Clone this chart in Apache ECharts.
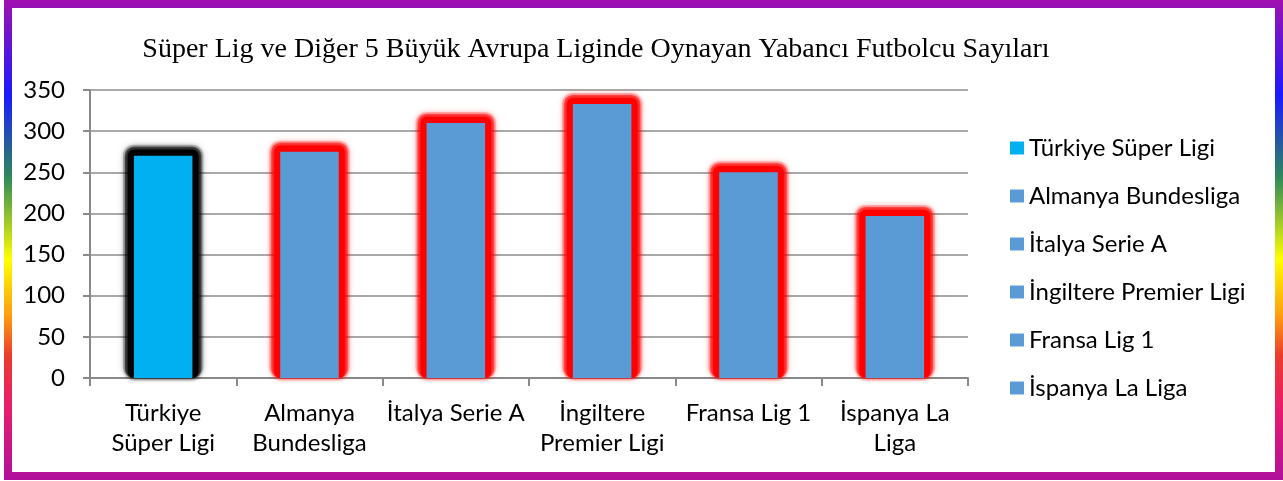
<!DOCTYPE html>
<html>
<head>
<meta charset="utf-8">
<script src="https://cdn.jsdelivr.net/npm/echarts@6/dist/echarts.min.js"></script>
<style>
  html, body { margin: 0; padding: 0; background: #fff; }
  #chart { width: 1283px; height: 481px; }
</style>
</head>
<body>
<div id="chart"></div>
<script>
  // kategoriler (eksen etiketleri) ve lejant isimleri
  const categories = ['Türkiye\nSüper Ligi', 'Almanya\nBundesliga', 'İtalya Serie A', 'İngiltere\nPremier Ligi', 'Fransa Lig 1', 'İspanya La\nLiga']
  const leagueNames = ['Türkiye Süper Ligi', 'Almanya Bundesliga', 'İtalya Serie A', 'İngiltere Premier Ligi', 'Fransa Lig 1', 'İspanya La Liga']
  // yabancı oyuncu sayıları
  const playerCounts = [270, 275, 310, 333, 250, 197]
  const yTicks = [0, 50, 100, 150, 200, 250, 300, 350]

  const barColors = ['#00b0f0', '#5b9bd5', '#5b9bd5', '#5b9bd5', '#5b9bd5', '#5b9bd5']
  const glowColors = ['#000000', '#ff0000', '#ff0000', '#ff0000', '#ff0000', '#ff0000']

  const chart = echarts.init(document.getElementById('chart'))
  const labelFont = 'Lato, "Open Sans", sans-serif'

  // çubukların arkasındaki parlama (glow) - custom seri, katmanlı yumuşak kenar
  const glowSeries = {
    name: 'glow',
    type: 'custom',
    silent: true,
    z: 1,
    data: playerCounts.map((v, i) => [i, v]),
    encode: { x: 0, y: 1 },
    renderItem: function (params, api) {
      const top = api.coord([api.value(0), api.value(1)])
      const base = api.coord([api.value(0), 0])
      const w = api.size([1, 0])[0] * 0.4
      const c = glowColors[params.dataIndex]
      const layer = (pad, opacity, blur) => ({
        type: 'rect',
        shape: { x: top[0] - w / 2 - pad, y: top[1] - pad, width: w + pad * 2, height: base[1] - top[1] + pad, r: pad },
        style: { fill: c, opacity: opacity, shadowBlur: blur, shadowColor: c }
      })
      return {
        type: 'group',
        children: [layer(11, 0.18, 6), layer(9, 0.45, 4), layer(6, 1, 4)]
      }
    }
  }

  // her lig için ayrı seri, lejantta görünsün diye
  const leagueSeries = leagueNames.map((name, i) => ({
    name: name,
    type: 'bar',
    stack: 'lig',
    barWidth: '40%',
    z: 3,
    itemStyle: { color: barColors[i] },
    data: playerCounts.map((v, j) => (j === i ? v : '-'))
  }))

  chart.setOption({
    animation: false,
    title: {
      text: 'Süper Lig ve Diğer 5 Büyük Avrupa Liginde Oynayan Yabancı Futbolcu Sayıları',
      left: 591,
      top: 31,
      textAlign: 'center',
      textStyle: {
        fontFamily: '"Liberation Serif", "Times New Roman", serif',
        fontWeight: 'normal',
        fontSize: 28,
        color: '#000'
      }
    },
    legend: {
      data: leagueNames,
      orient: 'vertical',
      left: 1005,
      top: 131,
      itemWidth: 14,
      itemHeight: 13,
      itemGap: 24,
      icon: 'rect',
      textStyle: { fontFamily: labelFont, fontSize: 24, color: '#000', lineHeight: 24 }
    },
    grid: { left: 90, right: 315, top: 90, bottom: 103 },
    xAxis: {
      type: 'category',
      data: categories,
      axisLine: { lineStyle: { color: '#898989', width: 2 } },
      axisTick: { show: true, length: 8, lineStyle: { color: '#898989', width: 2 } },
      axisLabel: {
        fontFamily: labelFont,
        fontSize: 24,
        color: '#000',
        lineHeight: 30,
        margin: 20,
        interval: 0
      }
    },
    yAxis: {
      type: 'value',
      min: yTicks[0],
      max: yTicks[yTicks.length - 1],
      interval: 50,
      axisLine: { show: true, lineStyle: { color: '#898989', width: 2 } },
      axisTick: { show: true, length: 7, lineStyle: { color: '#898989', width: 2 } },
      splitLine: { lineStyle: { color: '#8c8c8c', width: 1.5 } },
      axisLabel: { fontFamily: labelFont, fontSize: 24, color: '#000', margin: 25 }
    },
    graphic: [{
      type: 'rect',
      silent: true,
      z: 100,
      shape: { x: 8, y: 4, width: 1271, height: 472 },
      style: {
        fill: 'none',
        lineWidth: 8,
        stroke: new echarts.graphic.LinearGradient(0, 0, 0, 1, [
          { offset: 0, color: '#a010b0' },
          { offset: 0.2, color: '#1a1aff' },
          { offset: 0.37, color: '#2e8a5a' },
          { offset: 0.54, color: '#ffff00' },
          { offset: 0.66, color: '#ff9a10' },
          { offset: 0.74, color: '#ea3d2c' },
          { offset: 0.85, color: '#e81c6c' },
          { offset: 1, color: '#b0109c' }
        ])
      }
    }],
    series: [glowSeries, ...leagueSeries]
  })
</script>
</body>
</html>
